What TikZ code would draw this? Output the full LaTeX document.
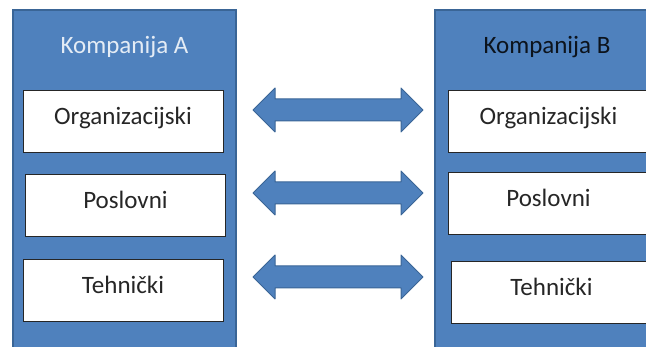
\documentclass[tikz,border=0pt]{standalone}
\usepackage{fontspec}
\setmainfont{Carlito}
\usetikzlibrary{calc}
\begin{document}
\begin{tikzpicture}[x=1pt,y=1pt,
  panel/.style={draw=panelborder, line width=1.5pt, fill=panelblue},
  bigtext/.style={font=\fontsize{25}{30}\selectfont},
  layerbox/.style={draw=black!85, line width=1pt, fill=white, minimum width=200pt, minimum height=62pt, inner sep=0pt, bigtext, text=black!85, text height=14pt, text depth=8pt},
  dblarrow/.style={draw=panelborder, line width=1pt, fill=panelblue, line join=round}
]
\definecolor{panelblue}{HTML}{4F81BD}
\definecolor{panelborder}{HTML}{3A6596}
\useasboundingbox (0,0) rectangle (646,347);
\clip (0,0) rectangle (646,347);
% panels
\path[panel] (13,337) rectangle (236,-10);
\path[panel] (435,337) rectangle (670,-10);
\node[bigtext, text=white!85!panelblue] (ka) at (124.5,300) {Kompanija A};
\node[bigtext, text=black!85!panelblue] (kb) at (547,300) {Kompanija B};
% boxes
\node[layerbox] (a1) at (123,225) {Organizacijski};
\node[layerbox] (a2) at (125.5,141.5) {Poslovni};
\node[layerbox] (a3) at (123,56.5) {Tehnički};
\node[layerbox] (b1) at (548.5,225) {Organizacijski};
\node[layerbox] (b2) at (548.5,143) {Poslovni};
\node[layerbox] (b3) at (551.5,54.5) {Tehnički};
% double arrows
\foreach \y/\n in {237/1,154/2,70/3}{
  \coordinate (l\n) at (253,\y);
  \coordinate (r\n) at (423,\y);
  \draw[dblarrow] (l\n) -- ++(22,22) -- ++(0,-11) -- ($(r\n)+(-22,11)$) -- ++(0,11) -- (r\n)
     -- ++(-22,-22) -- ++(0,11) -- ($(l\n)+(22,-11)$) -- ++(0,-11) -- cycle;
}
\end{tikzpicture}
\end{document}
